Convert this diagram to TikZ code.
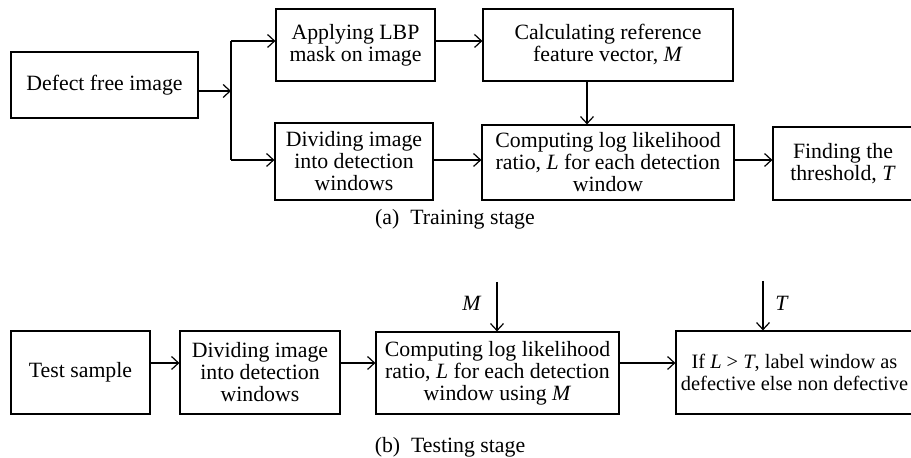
\documentclass[tikz,border=0pt]{standalone}
\usepackage{fontspec}
\setmainfont{Liberation Serif}
\usetikzlibrary{arrows.meta}

\begin{document}
\begin{tikzpicture}[x=0.5pt, y=-0.5pt, font=\fontsize{10.9}{11}\selectfont]
\useasboundingbox (0,0) rectangle (911,458);

\coordinate (split) at (231,91);
\coordinate (up) at (231,41);
\coordinate (down) at (231,160);
\coordinate (row) at (0,363);
\coordinate (mtop) at (497,282);
\coordinate (ttop) at (763,281);

\begin{scope}[every node/.style={draw, line width=0.6pt, align=center, inner sep=0pt}]
\node (free) at (104.5, 85) [minimum width=93.5pt, minimum height=33pt] {Defect free image};
\node (lbp) at (355.5, 45) [minimum width=79.5pt, minimum height=36pt] {Applying LBP\\mask on image};
\node (div1) at (354, 161.5) [minimum width=79pt, minimum height=38.5pt] {Dividing image\\into detection\\windows};
\node (calc) at (608, 45) [minimum width=125pt, minimum height=36pt] {Calculating reference\\feature vector, \textit{M}};
\node (comp1) at (608, 162.5) [minimum width=126pt, minimum height=37.5pt] {Computing log likelihood\\ratio, \textit{L} for each detection\\window};
\node (find) at (843, 163.5) [minimum width=70pt, minimum height=36.5pt] {Finding the\\threshold, \textit{T}};
\node (test) at (80.5, 372.5) [minimum width=69.5pt, minimum height=41.5pt] {Test sample};
\node (div2) at (260, 372.5) [minimum width=80pt, minimum height=41.5pt] {Dividing image\\into detection\\windows};
\node (comp2) at (497.5, 373) [minimum width=121.5pt, minimum height=41pt] {Computing log likelihood\\ratio, \textit{L} for each detection\\window using \textit{M}};
\node (ifb) at (794.5, 372.5) [minimum width=118.5pt, minimum height=41.5pt, font=\fontsize{10.2}{11}\selectfont] {If \textit{L} > \textit{T}, label window as\\defective else non defective};
\end{scope}

\node (capa) at (455, 219) {(a)\enspace Training stage};
\node (capb) at (450, 447) {(b)\enspace Testing stage};
\node (mlab) at (472, 303) {\textit{M}};
\node (tlab) at (782, 303) {\textit{T}};

\begin{scope}[-{Straight Barb[length=3.5pt, width=6.5pt]}, line width=0.6pt]
\draw (free.east |- split) -- (split);
\draw [-] (up) -- (down);
\draw (up) -- (lbp.west |- up);
\draw (down) -- (div1.west |- down);
\draw (lbp.east |- up) -- (calc.west |- up);
\draw ([xshift=-10.5pt]calc.south) -- ([xshift=-10.5pt]comp1.north);
\draw (div1.east |- down) -- (comp1.west |- down);
\draw (comp1.east |- down) -- (find.west |- down);
\draw (test.east |- row) -- (div2.west |- row);
\draw (div2.east |- row) -- (comp2.west |- row);
\draw (comp2.east |- row) -- (ifb.west |- row);
\draw (mtop) -- (mtop |- comp2.north);
\draw (ttop) -- (ttop |- ifb.north);
\end{scope}

\end{tikzpicture}
\end{document}
